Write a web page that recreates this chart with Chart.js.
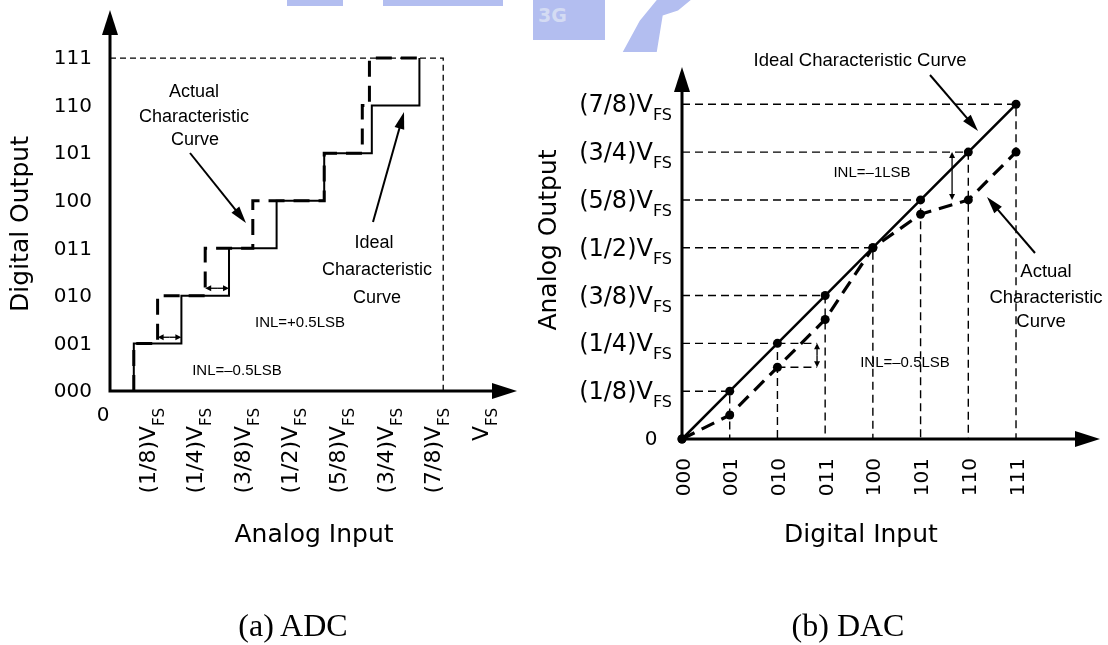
<!DOCTYPE html>
<html>
<head>
<meta charset="utf-8">
<script src="https://cdn.jsdelivr.net/npm/chart.js@4.4.0/dist/chart.umd.min.js"></script>
<style>
  html, body { margin: 0; padding: 0; background: #fff; }
  #page { position: relative; width: 1108px; height: 645px; overflow: hidden; }
  #adc { position: absolute; left: 0; top: 0; }
  #dac { position: absolute; left: 520px; top: 0; }
  .caption { position: absolute; top: 609px; line-height: 32px; font-size: 32px;
    font-family: "Liberation Serif", "Times New Roman", serif; transform: translateX(-50%); white-space: nowrap; }
  .mark { position: absolute; background: #b3bef0; }
</style>
</head>
<body>
<div id="page">
  <div class="mark" style="left:287px;top:0;width:56px;height:6px"></div>
  <div class="mark" style="left:383px;top:0;width:120px;height:6px"></div>
  <div class="mark" style="left:533px;top:0;width:72px;height:40px;color:#d4dbf3;font:bold 19px 'DejaVu Sans';line-height:30px;padding-left:5px;box-sizing:border-box">3G</div>
  <div class="mark" style="left:610px;top:0;width:85px;height:52px;clip-path:polygon(55% 0,95% 0,80% 20%,62% 30%,55% 100%,15% 100%,35% 40%)"></div>
  <canvas id="adc" width="520" height="645"></canvas>
  <canvas id="dac" width="588" height="645"></canvas>
  <div class="caption" style="left:293px">(a) ADC</div>
  <div class="caption" style="left:848px">(b) DAC</div>
</div>
<script>
// ---- data ----
const adcCodes = ['000', '001', '010', '011', '100', '101', '110', '111'];
const inputFractions = ['(1/8)', '(1/4)', '(3/8)', '(1/2)', '(5/8)', '(3/4)', '(7/8)', ''];
// code transition points, in units of VFS/8
const adcIdealEdges = [0.5, 1.5, 2.5, 3.5, 4.5, 5.5, 6.5];
const adcActualEdges = [0.5, 1.0, 2.0, 3.0, 4.5, 5.3, 5.45];
const adcActualEnd = 6.5;

const dacCodes = ['000', '001', '010', '011', '100', '101', '110', '111'];
const outputFractions = ['(1/8)', '(1/4)', '(3/8)', '(1/2)', '(5/8)', '(3/4)', '(7/8)'];
// analog output in LSB (VFS/8)
const dacIdeal = [0, 1, 2, 3, 4, 5, 6, 7];
const dacActual = [0, 0.5, 1.5, 2.5, 4.0, 4.7, 5.0, 6.0];

const SANS = '"DejaVu Sans", sans-serif';
const ARIAL = '"Liberation Sans", Arial, sans-serif';

function stairs(edges, end) {
  const pts = [{ x: edges[0], y: 0 }];
  edges.forEach((e, i) => pts.push({ x: e, y: i + 1 }));
  if (end != null) pts.push({ x: end, y: edges.length });
  return pts;
}

function lineSet(data, opts) {
  return Object.assign({
    data: data, borderColor: '#000', backgroundColor: '#000', borderWidth: 1.5,
    pointRadius: 0, fill: false, tension: 0, clip: false
  }, opts);
}

function subText(ctx, main, sub, x, y, align, mf, sf, drop) {
  ctx.font = mf;
  const w1 = ctx.measureText(main).width;
  ctx.font = sf;
  const w2 = sub ? ctx.measureText(sub).width : 0;
  let sx = x;
  if (align === 'right') sx = x - w1 - w2;
  if (align === 'center') sx = x - (w1 + w2) / 2;
  ctx.textAlign = 'left';
  ctx.textBaseline = 'alphabetic';
  ctx.font = mf;
  ctx.fillText(main, sx, y);
  if (sub) {
    ctx.font = sf;
    ctx.fillText(sub, sx + w1, y + drop);
  }
}

function arrow(ctx, x1, y1, x2, y2, head, half, lw) {
  const a = Math.atan2(y2 - y1, x2 - x1);
  const c = Math.cos(a), s = Math.sin(a);
  ctx.lineWidth = lw;
  ctx.beginPath();
  ctx.moveTo(x1, y1);
  ctx.lineTo(x2 - c * head * 0.7, y2 - s * head * 0.7);
  ctx.stroke();
  ctx.beginPath();
  ctx.moveTo(x2, y2);
  ctx.lineTo(x2 - c * head + s * half, y2 - s * head - c * half);
  ctx.lineTo(x2 - c * head - s * half, y2 - s * head + c * half);
  ctx.closePath();
  ctx.fill();
}

function doubleArrow(ctx, x1, y1, x2, y2) {
  const mx = (x1 + x2) / 2, my = (y1 + y2) / 2;
  arrow(ctx, mx, my, x1, y1, 6, 3, 1.3);
  arrow(ctx, mx, my, x2, y2, 6, 3, 1.3);
}

function axes(ctx, x0, y0, xEnd, yEnd) {
  ctx.save();
  ctx.strokeStyle = '#000';
  ctx.fillStyle = '#000';
  ctx.lineWidth = 3;
  ctx.lineJoin = 'miter';
  ctx.beginPath();
  ctx.moveTo(x0, yEnd + 20);
  ctx.lineTo(x0, y0);
  ctx.lineTo(xEnd - 20, y0);
  ctx.stroke();
  ctx.beginPath();
  ctx.moveTo(x0, yEnd);
  ctx.lineTo(x0 - 8, yEnd + 25);
  ctx.lineTo(x0 + 8, yEnd + 25);
  ctx.fill();
  ctx.beginPath();
  ctx.moveTo(xEnd, y0);
  ctx.lineTo(xEnd - 25, y0 - 8);
  ctx.lineTo(xEnd - 25, y0 + 8);
  ctx.fill();
  ctx.restore();
}

function centered(ctx, text, x, y, font) {
  ctx.font = font;
  ctx.textAlign = 'center';
  ctx.textBaseline = 'middle';
  ctx.fillText(text, x, y);
}

// ---- ADC decorations ----
const adcDecor = {
  id: 'adcDecor',
  afterDraw(chart) {
    const { ctx, scales: { x, y } } = chart;
    const x0 = x.getPixelForValue(0), y0 = y.getPixelForValue(0);
    ctx.save();
    axes(ctx, x0, y0, x.getPixelForValue(x.max), y.getPixelForValue(y.max));
    ctx.fillStyle = '#000';
    ctx.strokeStyle = '#000';

    ctx.font = '20px ' + SANS;
    ctx.textAlign = 'right';
    ctx.textBaseline = 'middle';
    adcCodes.forEach((c, i) => ctx.fillText(c, 92, y.getPixelForValue(i) + 1));
    centered(ctx, '0', x0 - 7, 416, '20px ' + SANS);

    inputFractions.forEach((lab, i) => {
      ctx.save();
      ctx.translate(x.getPixelForValue(i + 1), 0);
      ctx.rotate(-Math.PI / 2);
      subText(ctx, lab + 'V', 'FS', -408, -3, 'right', '22px ' + SANS, '15px ' + SANS, 9);
      ctx.restore();
    });

    ctx.save();
    ctx.translate(21, 224);
    ctx.rotate(-Math.PI / 2);
    centered(ctx, 'Digital Output', 0, 0, '25px ' + SANS);
    ctx.restore();
    centered(ctx, 'Analog Input', 314, 535, '25px ' + SANS);

    const f = '18px ' + ARIAL;
    centered(ctx, 'Actual', 194, 92, f);
    centered(ctx, 'Characteristic', 194, 117, f);
    centered(ctx, 'Curve', 195, 140, f);
    arrow(ctx, 190, 153, 246, 223, 17, 5, 2);
    centered(ctx, 'Ideal', 374, 243, f);
    centered(ctx, 'Characteristic', 377, 270, f);
    centered(ctx, 'Curve', 377, 298, f);
    arrow(ctx, 373, 222, 404, 112, 17, 5, 2);

    centered(ctx, 'INL=+0.5LSB', 300, 323, '15px ' + ARIAL);
    centered(ctx, 'INL=\u20130.5LSB', 237, 371, '15px ' + ARIAL);

    // INL markers between actual and ideal transitions
    doubleArrow(ctx, x.getPixelForValue(adcActualEdges[1]), y.getPixelForValue(1.13),
      x.getPixelForValue(adcIdealEdges[1]), y.getPixelForValue(1.13));
    doubleArrow(ctx, x.getPixelForValue(adcActualEdges[2]), y.getPixelForValue(2.16),
      x.getPixelForValue(adcIdealEdges[2]), y.getPixelForValue(2.16));
    ctx.restore();
  }
};

new Chart(document.getElementById('adc'), {
  type: 'line',
  data: {
    datasets: [
      lineSet([{ x: 0, y: 7 }, { x: 7, y: 7 }, { x: 7, y: 0 }], { borderWidth: 1.3, borderDash: [6, 4], order: 3 }),
      lineSet(stairs(adcIdealEdges), { borderWidth: 2, stepped: 'before', order: 2 }),
      lineSet(stairs(adcActualEdges, adcActualEnd), { borderWidth: 3, borderDash: [16, 9], stepped: 'before', order: 1 })
    ]
  },
  options: {
    responsive: false,
    animation: false,
    devicePixelRatio: 1,
    layout: { padding: { left: 110, right: 3, top: 10, bottom: 254 } },
    plugins: { legend: { display: false }, tooltip: { enabled: false } },
    scales: {
      x: { type: 'linear', display: false, min: 0, max: 8.55 },
      y: { type: 'linear', display: false, min: 0, max: 8.01 }
    }
  },
  plugins: [adcDecor]
});

// ---- DAC decorations ----
const dacDecor = {
  id: 'dacDecor',
  afterDraw(chart) {
    const { ctx, scales: { x, y } } = chart;
    const x0 = x.getPixelForValue(0), y0 = y.getPixelForValue(0);
    ctx.save();
    axes(ctx, x0, y0, x.getPixelForValue(x.max), y.getPixelForValue(y.max));
    ctx.fillStyle = '#000';
    ctx.strokeStyle = '#000';

    outputFractions.forEach((lab, i) => {
      subText(ctx, lab + 'V', 'FS', 152, y.getPixelForValue(i + 1) + 8, 'right', '24px ' + SANS, '16px ' + SANS, 8);
    });
    centered(ctx, '0', 131, 440, '20px ' + SANS);

    dacCodes.forEach((c, i) => {
      ctx.save();
      ctx.translate(x.getPixelForValue(i), 0);
      ctx.rotate(-Math.PI / 2);
      ctx.font = '20px ' + SANS;
      ctx.textAlign = 'right';
      ctx.textBaseline = 'alphabetic';
      ctx.fillText(c, -458, 7.5);
      ctx.restore();
    });

    ctx.save();
    ctx.translate(29, 240);
    ctx.rotate(-Math.PI / 2);
    centered(ctx, 'Analog Output', 0, 0, '25px ' + SANS);
    ctx.restore();
    centered(ctx, 'Digital Input', 341, 535, '25px ' + SANS);

    const f = '18.5px ' + ARIAL;
    centered(ctx, 'Ideal Characteristic Curve', 340, 61, f);
    arrow(ctx, 410, 75, 458, 131, 17, 5, 2);
    centered(ctx, 'Actual', 526, 272, f);
    centered(ctx, 'Characteristic', 526, 298, f);
    centered(ctx, 'Curve', 521, 322, f);
    arrow(ctx, 515, 253, 467, 197, 17, 5, 2);

    centered(ctx, 'INL=\u20131LSB', 352, 173, '15px ' + ARIAL);
    centered(ctx, 'INL=\u20130.5LSB', 385, 363, '15px ' + ARIAL);

    doubleArrow(ctx, x.getPixelForValue(2.83), y.getPixelForValue(dacIdeal[2]),
      x.getPixelForValue(2.83), y.getPixelForValue(dacActual[2]));
    doubleArrow(ctx, x.getPixelForValue(5.66), y.getPixelForValue(dacIdeal[6]),
      x.getPixelForValue(5.66), y.getPixelForValue(dacActual[6]));
    ctx.restore();
  }
};

const dacRefs = dacIdeal.slice(1).map(v => lineSet(
  [{ x: 0, y: v }, { x: v, y: v }, { x: v, y: 0 }],
  { borderWidth: 1.4, borderDash: [8, 5], order: 3 }
));

new Chart(document.getElementById('dac'), {
  type: 'line',
  data: {
    datasets: dacRefs.concat([
      lineSet([{ x: 2, y: dacIdeal[2] }, { x: 2.83, y: dacIdeal[2] }], { borderWidth: 1.4, borderDash: [8, 5], order: 3 }),
      lineSet([{ x: 2, y: dacActual[2] }, { x: 2.83, y: dacActual[2] }], { borderWidth: 1.4, borderDash: [8, 5], order: 3 }),
      lineSet(dacIdeal.map((v, i) => ({ x: i, y: v })), { borderWidth: 2.5, pointRadius: 4.5, pointBorderWidth: 0, order: 2 }),
      lineSet(dacActual.map((v, i) => ({ x: i, y: v })), { borderWidth: 3.2, borderDash: [14, 8], pointRadius: 4.5, pointBorderWidth: 0, order: 1 })
    ])
  },
  options: {
    responsive: false,
    animation: false,
    devicePixelRatio: 1,
    layout: { padding: { left: 162, right: 8, top: 67, bottom: 206 } },
    plugins: { legend: { display: false }, tooltip: { enabled: false } },
    scales: {
      x: { type: 'linear', display: false, min: 0, max: 8.76 },
      y: { type: 'linear', display: false, min: 0, max: 7.78 }
    }
  },
  plugins: [dacDecor]
});
</script>
</body>
</html>
